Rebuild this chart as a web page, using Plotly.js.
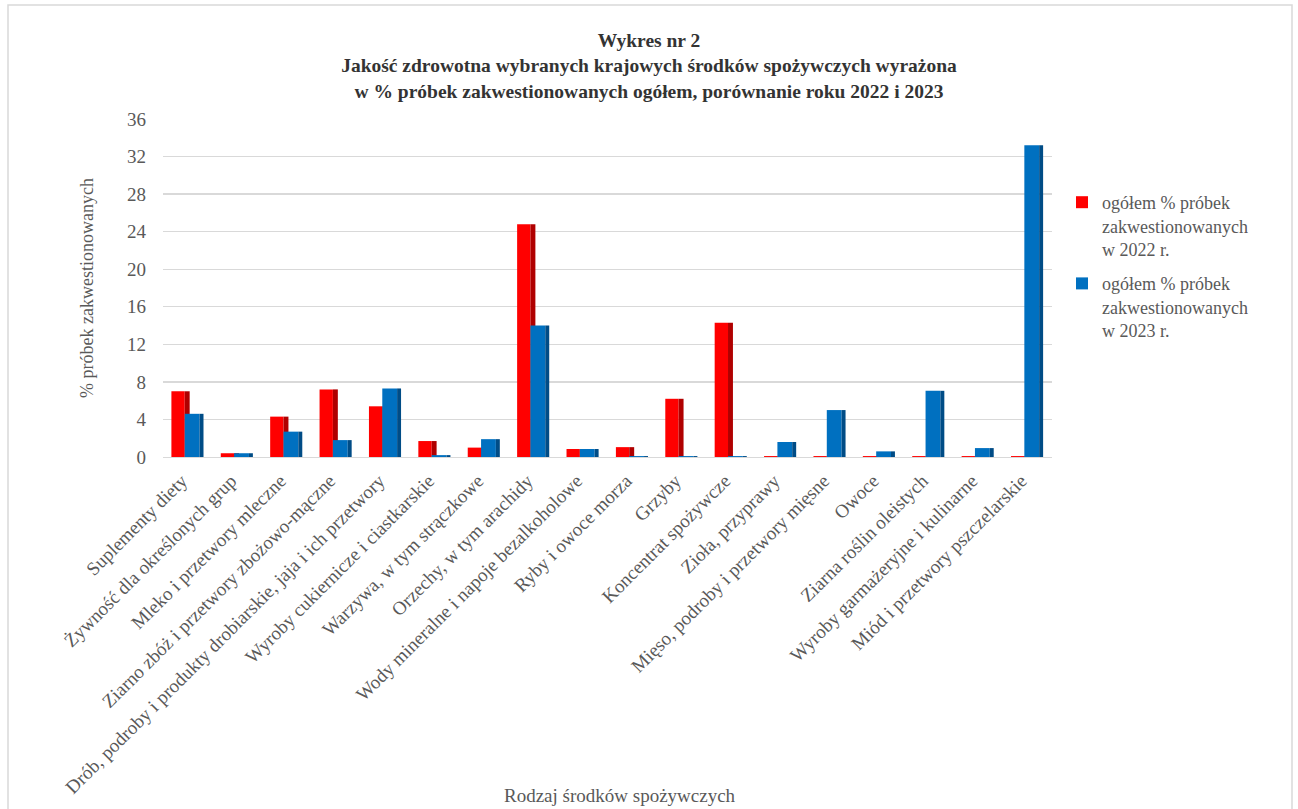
<!DOCTYPE html>
<html>
<head>
<meta charset="utf-8">
<script src="https://cdn.plot.ly/plotly-3.0.1.min.js"></script>
<style>
html,body{margin:0;padding:0;background:#fff;}
#chart{width:1298px;height:809px;}
</style>
</head>
<body>
<div id="chart"></div>
<script>
const categories = [
  "Suplementy diety",
  "Żywność dla określonych grup",
  "Mleko i przetwory mleczne",
  "Ziarno zbóż i przetwory zbożowo-mączne",
  "Drób, podroby i produkty drobiarskie, jaja i ich przetwory",
  "Wyroby cukiernicze i ciastkarskie",
  "Warzywa, w tym strączkowe",
  "Orzechy, w tym arachidy",
  "Wody mineralne i napoje bezalkoholowe",
  "Ryby i owoce morza",
  "Grzyby",
  "Koncentrat spożywcze",
  "Zioła, przyprawy",
  "Mięso, podroby i przetwory mięsne",
  "Owoce",
  "Ziarna roślin oleistych",
  "Wyroby garmażeryjne i kulinarne",
  "Miód i przetwory pszczelarskie"
];
const values2022 = [7.0, 0.4, 4.3, 7.2, 5.4, 1.7, 1.0, 24.8, 0.85, 1.05, 6.2, 14.3, 0.1, 0.1, 0.1, 0.1, 0.1, 0.1];
const values2023 = [4.6, 0.4, 2.7, 1.8, 7.3, 0.2, 1.9, 14.0, 0.85, 0.1, 0.1, 0.1, 1.6, 5.0, 0.6, 7.05, 0.95, 33.2];
const seriesNames = [
  "ogółem % próbek<br>zakwestionowanych<br>w 2022 r.",
  "ogółem % próbek<br>zakwestionowanych<br>w 2023 r."
];
const yTicks = [0, 4, 8, 12, 16, 20, 24, 28, 32, 36];

const RED = "#ff0000", RED_SIDE = "#b00000";
const BLUE = "#0070c0", BLUE_SIDE = "#004c86";
const FONT = "Liberation Serif, Times New Roman, serif";

const traces = [
  {type:"bar", x:categories, y:values2022, name:seriesNames[0], marker:{color:RED},
   offset:-0.33, width:0.27, legendgroup:"a", hoverinfo:"skip"},
  {type:"bar", x:categories, y:values2022, marker:{color:RED_SIDE},
   offset:-0.06, width:0.1, showlegend:false, legendgroup:"a", hoverinfo:"skip"},
  {type:"bar", x:categories, y:values2023, name:seriesNames[1], marker:{color:BLUE},
   offset:-0.06, width:0.3, legendgroup:"b", hoverinfo:"skip"},
  {type:"bar", x:categories, y:values2023, marker:{color:BLUE_SIDE},
   offset:0.24, width:0.08, showlegend:false, legendgroup:"b", hoverinfo:"skip"}
];

const M = {l:163, r:246, t:119, b:352};
const PW = 1298 - M.l - M.r, PH = 809 - M.t - M.b;
const px = v => (v - M.l) / PW;
const py = v => (809 - M.b - v) / PH;

const layout = {
  width:1298, height:809,
  margin:M,
  paper_bgcolor:"#ffffff", plot_bgcolor:"#ffffff",
  barmode:"overlay",
  font:{family:FONT, color:"#595959", size:18},
  title:{
    text:"<b>Wykres nr 2</b><br><b>Jakość zdrowotna wybranych krajowych środków spożywczych wyrażona</b><br><b>w % próbek zakwestionowanych ogółem, porównanie roku 2022 i 2023</b>",
    font:{family:FONT, size:19.5, color:"#333333"},
    x:0.5, xref:"container", xanchor:"center",
    y:1 - 47/809, yref:"container", yanchor:"top"
  },
  xaxis:{
    type:"category",
    tickangle:-45,
    tickfont:{family:FONT, size:19, color:"#595959"},
    showgrid:false, showline:false, zeroline:false, ticks:"",
    ticklabelstandoff:8,
    ticklabelshift:-6,
    automargin:false
  },
  yaxis:{
    range:[0, 36],
    tickvals:yTicks,
    tickfont:{family:FONT, size:19, color:"#595959"},
    showgrid:true, gridcolor:"#d9d9d9", gridwidth:1.3,
    zeroline:true, zerolinecolor:"#d9d9d9",
    showline:false, ticks:"",
    ticklabelstandoff:16,
    automargin:false,
    title:{text:"% próbek zakwestionowanych", font:{family:FONT, size:18, color:"#595959"}, standoff:28}
  },
  legend:{
    x:px(1062), y:py(184), xanchor:"left", yanchor:"top",
    font:{family:FONT, size:18, color:"#595959"},
    valign:"top",
    tracegroupgap:8,
    itemwidth:30,
    bgcolor:"rgba(0,0,0,0)"
  },
  annotations:[
    {text:"Rodzaj środków spożywczych", xref:"paper", yref:"paper",
     x:px(620), y:py(795), xanchor:"center", yanchor:"middle", showarrow:false,
     font:{family:FONT, size:19, color:"#595959"}}
  ],
  shapes:[
    {type:"rect", xref:"paper", yref:"paper",
     x0:px(8), x1:px(1292), y0:py(815), y1:py(5),
     line:{color:"#d9d9d9", width:1.5}, fillcolor:"rgba(0,0,0,0)", layer:"below"}
  ],
  showlegend:true
};

Plotly.newPlot("chart", traces, layout, {staticPlot:true, displayModeBar:false});
</script>
</body>
</html>
